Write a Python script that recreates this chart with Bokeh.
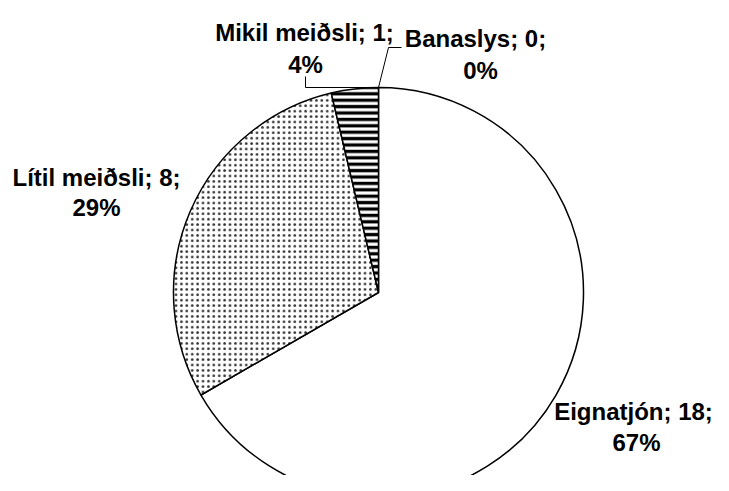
import numpy as np
from bokeh.plotting import figure
from bokeh.models import Range1d, ColumnDataSource
from bokeh.embed import file_html
from bokeh.resources import INLINE
from bokeh.core.properties import value

# ---- data ----
categories = ["Eignatjón", "Lítil meiðsli", "Mikil meiðsli", "Banaslys"]
counts = [18, 8, 1, 0]
percent_labels = ["67%", "29%", "4%", "0%"]

# ---- styles ----
hatch_patterns = [" ", "dot", "horizontal_line", " "]
hatch_colors = ["white", "#333333", "black", "white"]
hatch_scales = [4, 5.4, 6.4, 4]
hatch_weights = [1, 0.8, 3.3, 1]

# ---- layout (frame pixels, y up) ----
W, H = 713, 475
cx, cy, R = 378, 183, 205
FONT = "Liberation Sans"
FSIZE = "24px"

# label line anchors (x centre, baseline y) per category: line1, line2
label_pos = [
    [(633, 64), (636, 33)],
    [(96, 298), (96, 268)],
    [(304, 443), (305, 411)],
    [(475, 437), (480, 405)],
]

total = sum(counts)
fracs = np.array(counts) / total
starts = np.pi / 2 - 2 * np.pi * np.concatenate([[0], np.cumsum(fracs)[:-1]])
ends = starts - 2 * np.pi * fracs

keep = [i for i, c in enumerate(counts) if c > 0]
src = ColumnDataSource(dict(
    start=[starts[i] for i in keep],
    end=[ends[i] for i in keep],
    pat=[hatch_patterns[i] for i in keep],
    hc=[hatch_colors[i] for i in keep],
    hs=[hatch_scales[i] for i in keep],
    hw=[hatch_weights[i] for i in keep],
))

p = figure(width=W, height=H, x_range=Range1d(0, W), y_range=Range1d(0, H),
           output_backend="svg", toolbar_location=None, min_border=0)
p.axis.visible = False
p.grid.visible = False
p.outline_line_color = None

p.wedge(x=cx, y=cy, radius=R, start_angle="start", end_angle="end",
        direction="clock", source=src, fill_color="white",
        line_color="black", line_width=1.5,
        hatch_pattern="pat", hatch_color="hc", hatch_scale="hs",
        hatch_weight="hw")

# leader lines
top_x, top_y = cx + R * np.cos(np.pi / 2), cy + R * np.sin(np.pi / 2)
p.line([top_x - 73, top_x - 73, top_x], [top_y + 11, top_y, top_y],
       line_color="black", line_width=1)
p.line([top_x, top_x + 10, top_x + 23], [top_y, top_y + 40, top_y + 40],
       line_color="black", line_width=1)

xs, ys, txt = [], [], []
for i, cat in enumerate(categories):
    (x1, y1), (x2, y2) = label_pos[i]
    xs += [x1, x2]
    ys += [y1, y2]
    txt += [f"{cat}; {counts[i]};", percent_labels[i]]

p.text(x=xs, y=ys, text=txt, text_font=value(FONT), text_font_size=FSIZE,
       text_font_style="bold", text_align="center",
       text_baseline="alphabetic", text_color="black")

open("out.html", "w").write(file_html(p, INLINE))
